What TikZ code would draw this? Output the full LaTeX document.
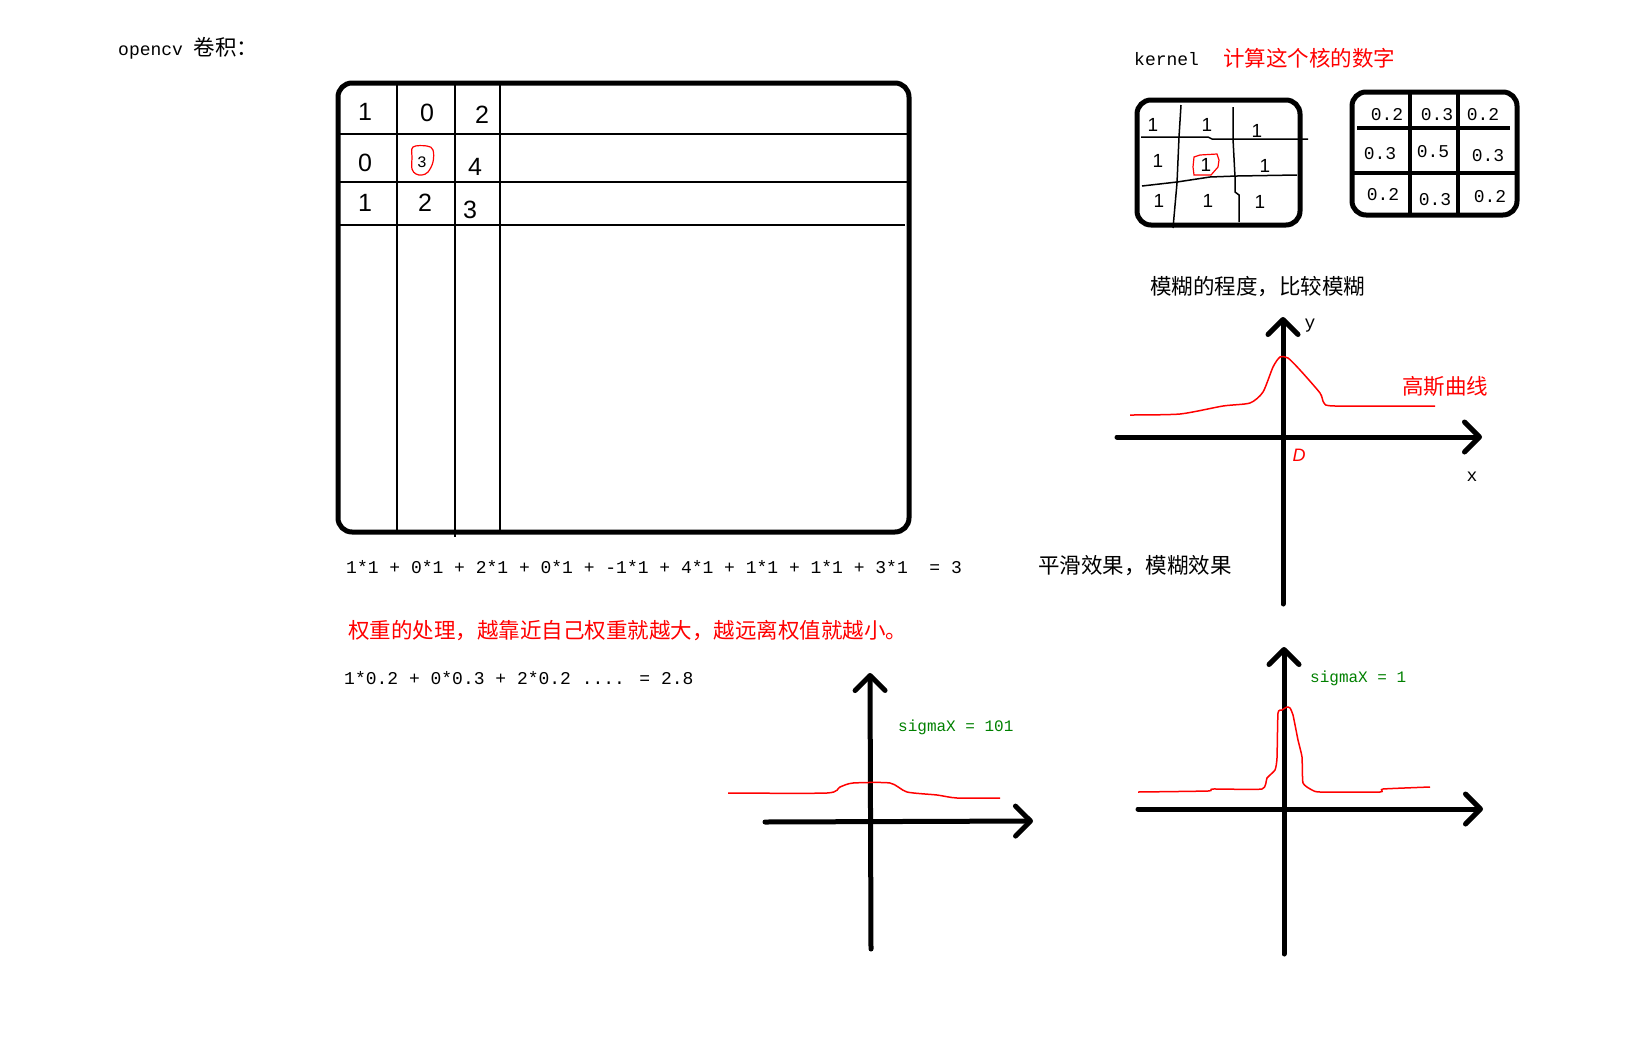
\documentclass[tikz,border=0pt]{standalone}
\usepackage{fontspec}
\setmainfont{Liberation Mono}
\newfontfamily\cjk{Noto Sans CJK SC}
\newfontfamily\hand{Liberation Sans}
\usetikzlibrary{arrows.meta}
\definecolor{sigmagreen}{RGB}{0,128,0}
\newcommand{\zh}[1]{{\fontsize{21.5}{24}\selectfont\cjk #1}}
\tikzset{
  txt/.style={inner sep=0pt, anchor=west, font=\fontsize{18}{22}\selectfont},
  digit/.style={inner sep=0pt, font=\hand\fontsize{25}{28}\selectfont},
  kone/.style={inner sep=0pt, font=\hand\fontsize{19}{22}\selectfont},
  kval/.style={inner sep=0pt, font=\fontsize{18}{22}\selectfont},
  frame/.style={line width=5pt, rounded corners=14pt},
  gridline/.style={line width=1.5pt},
  axis/.style={line width=5pt, line cap=round, ->},
  gauss/.style={red, line width=1.5pt},
  >={Straight Barb[length=15pt,width=30pt,round]}
}
\begin{document}
\begin{tikzpicture}[x=1pt,y=-1pt]
\useasboundingbox (0,0) rectangle (1633,1042);
\node[txt] (title) at (118,48) {opencv \zh{卷积：}};
% image grid
\draw[frame] (338,83) rectangle (909,532);
\draw[gridline] (397,85) -- (397,530);
\draw[gridline] (455,85) -- (455,537);
\draw[gridline] (500,85) -- (500,530);
\draw[gridline] (340,134) -- (907,134);
\draw[gridline] (340,182) -- (907,182);
\draw[gridline] (340,225) -- (905,225);
\node[digit] (p11) at (365,112) {1};
\node[digit] (p12) at (427,113) {0};
\node[digit] (p13) at (482,115) {2};
\node[digit] (p21) at (365,163) {0};
\node[inner sep=0pt, font=\fontsize{16}{18}\selectfont] (p22) at (422,162) {3};
\node[digit] (p23) at (475,167) {4};
\node[digit] (p31) at (365,203) {1};
\node[digit] (p32) at (425,203) {2};
\node[digit] (p33) at (470,210) {3};
\draw[red, line width=1.2pt] plot[smooth cycle, tension=0.6] coordinates {(413,147) (427,146) (433,150) (433,162) (428,172) (422,175) (416,174) (412,169) (412,158)};
% formulas
\node[txt] (sum) at (346,567) {1*1 + 0*1 + 2*1 + 0*1 + -1*1 + 4*1 + 1*1 + 1*1 + 3*1 \ = 3};
\node[txt] (smooth) at (1038,566) {\zh{平滑效果，模糊效果}};
\node[txt, red] (weight) at (348,631) {\zh{权重的处理，越靠近自己权重就越大，越远离权值就越小。}};
\node[txt] (wsum) at (344,678) {1*0.2 + 0*0.3 + 2*0.2 .... = 2.8};
% kernels
\node[txt] (kernel) at (1134,59) {kernel};
\node[txt, red] (kernelzh) at (1223,58) {\zh{计算这个核的数字}};
\draw[frame] (1137,100) rectangle (1300,225);
\draw[gridline] (1181,105) -- (1179,137) -- (1177,183) -- (1173,228);
\draw[gridline] (1233,107) -- (1233,139) -- (1235,177) -- (1235,192) -- (1239,195) -- (1239,222);
\draw[gridline] (1141,137) -- (1208,137) -- (1212,139) -- (1308,139);
\draw[gridline] (1142,186) -- (1177,182) -- (1210,177) -- (1237,176) -- (1297,175);
\node[kone] (k11) at (1153,125) {1};
\node[kone] (k12) at (1207,125) {1};
\node[kone] (k13) at (1257,131) {1};
\node[kone] (k21) at (1158,161) {1};
\node[kone] (k22) at (1206,165) {1};
\node[kone] (k23) at (1265,166) {1};
\node[kone] (k31) at (1159,201) {1};
\node[kone] (k32) at (1208,201) {1};
\node[kone] (k33) at (1260,202) {1};
\draw[red, line width=1.2pt] (1194,157) -- (1200,155) -- (1217,154) -- (1219,160) -- (1218,167) -- (1211,175) -- (1194,175) -- (1193,167) -- cycle;
\draw[frame] (1352,92) rectangle (1517,215);
\draw[line width=3.5pt] (1410,92) -- (1410,215);
\draw[line width=3.5pt] (1458,92) -- (1458,215);
\draw[line width=4pt] (1357,128) -- (1510,128);
\draw[line width=4pt] (1352,173) -- (1519,173);
\node[kval] (w11) at (1387,115) {0.2};
\node[kval] (w12) at (1437,115) {0.3};
\node[kval] (w13) at (1483,115) {0.2};
\node[kval] (w21) at (1380,154) {0.3};
\node[kval] (w22) at (1433,152) {0.5};
\node[kval] (w23) at (1488,156) {0.3};
\node[kval] (w31) at (1383,195) {0.2};
\node[kval] (w32) at (1435,200) {0.3};
\node[kval] (w33) at (1490,197) {0.2};
% gaussian curve
\node[txt] (blur) at (1150,287) {\zh{模糊的程度，比较模糊}};
\coordinate (ya) at (1283,604);
\coordinate (yb) at (1283,317);
\coordinate (xa) at (1117,437);
\coordinate (xb) at (1482,437);
\draw[axis] (ya) -- (yb);
\draw[axis] (xa) -- (xb);
\node[kval] (ylab) at (1310,326) {y};
\node[kval] (xlab) at (1472,477) {x};
\node[inner sep=0pt, red, font=\hand\itshape\fontsize{18}{20}\selectfont] (orig) at (1299,455) {D};
\node[txt, red] (gausslab) at (1402,386) {\zh{高斯曲线}};
\draw[gauss] plot[smooth, tension=0.4] coordinates {(1130,415) (1180,414) (1223,406) (1250,403) (1263,392) (1273,367) (1280,357) (1288,358) (1300,370) (1320,393) (1324,403) (1335,406) (1435,406)};
% sigmaX = 101
\coordinate (ya2) at (871,949);
\coordinate (yb2) at (870,673);
\coordinate (xa2) at (765,822);
\coordinate (xb2) at (1033,821);
\draw[axis] (ya2) -- (yb2);
\draw[axis] (xa2) -- (xb2);
\node[txt, sigmagreen, font=\fontsize{16}{18}\selectfont] (sig101) at (898,727) {sigmaX = 101};
\draw[gauss] plot[smooth, tension=0.4] coordinates {(728,793) (827,793) (840,787) (853,783) (890,783) (907,792) (937,795) (957,798) (1000,798)};
% sigmaX = 1
\coordinate (ya3) at (1284,954);
\coordinate (yb3) at (1284,647);
\coordinate (xa3) at (1138,809);
\coordinate (xb3) at (1483,809);
\draw[axis] (ya3) -- (yb3);
\draw[axis] (xa3) -- (xb3);
\node[txt, sigmagreen, font=\fontsize{16}{18}\selectfont] (sig1) at (1310,678) {sigmaX = 1};
\draw[gauss] plot[smooth, tension=0.3] coordinates {(1138,792) (1208,791) (1213,789) (1262,789) (1267,778) (1275,770) (1277,758) (1278,713) (1282,710) (1287,707) (1290,708) (1293,715) (1298,740) (1302,757) (1303,783) (1312,790) (1320,792) (1380,792) (1383,789) (1430,787)};
\end{tikzpicture}
\end{document}
